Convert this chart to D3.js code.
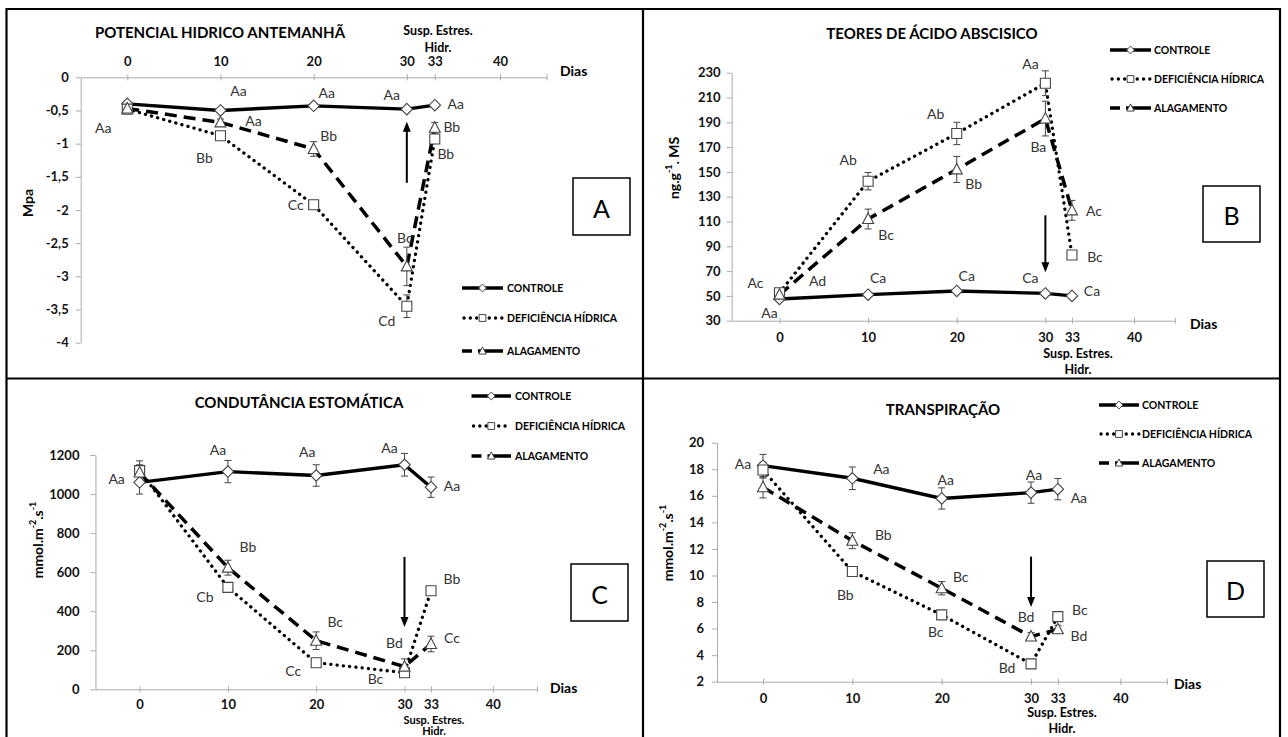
<!DOCTYPE html>
<html>
<head>
<meta charset="utf-8">
<script src="https://cdn.jsdelivr.net/npm/d3@7"></script>
<style>
  body { margin: 0; background: #fff; }
  svg { display: block; }
  text { font-family: Lato, "Open Sans", sans-serif; }
</style>
</head>
<body>
<svg id="chart" width="1288" height="737"></svg>
<script>
// ---- data ----
const days = [0, 10, 20, 30, 33];
const xTickDays = [0, 10, 20, 30, 33, 40];
const seriesNames = ["CONTROLE", "DEFICIÊNCIA HÍDRICA", "ALAGAMENTO"];

// A - potencial hidrico antemanha (MPa)
const potControle = [-0.40, -0.50, -0.43, -0.48, -0.42];
const potDeficiencia = [-0.48, -0.88, -1.92, -3.45, -0.93];
const potAlagamento = [-0.47, -0.68, -1.08, -2.85, -0.76];
const potErrControle = [0, 0, 0, 0, 0];
const potErrDeficiencia = [0.02, 0.03, 0.06, 0.17, 0.05];
const potErrAlagamento = [0.02, 0.05, 0.11, 0.29, 0.08];
const potLetControle = ["Aa", "Aa", "Aa", "Aa", "Aa"];
const potLetDeficiencia = [null, "Bb", "Cc", "Cd", "Bb"];
const potLetAlagamento = [null, "Aa", "Bb", "Bc", "Bb"];
const potTicks = [0, -0.5, -1, -1.5, -2, -2.5, -3, -3.5, -4];
const potTickLabels = ["0", "-0,5", "-1", "-1,5", "-2", "-2,5", "-3", "-3,5", "-4"];
const potArrow = [30, -1.59, -0.67];

// B - teores de acido abscisico (ng.g-1 MS)
const abaControle = [47.5, 51, 54, 52, 50];
const abaDeficiencia = [52.5, 142.5, 181, 221.5, 83];
const abaAlagamento = [51, 112, 152, 193, 119];
const abaErrControle = [1.5, 1.5, 1.5, 1.5, 1.5];
const abaErrDeficiencia = [3, 7, 9, 10, 3];
const abaErrAlagamento = [3, 8, 10.5, 14, 8];
const abaLetControle = ["Aa", "Ca", "Ca", "Ca", "Ca"];
const abaLetDeficiencia = ["Ac", "Ab", "Ab", "Aa", "Bc"];
const abaLetAlagamento = ["Ad", "Bc", "Bb", "Ba", "Ac"];
const abaTicks = [30, 50, 70, 90, 110, 130, 150, 170, 190, 210, 230];
const abaTickLabels = ["30", "50", "70", "90", "110", "130", "150", "170", "190", "210", "230"];
const abaArrow = [30, 115, 69];

// C - condutancia estomatica (mmol.m-2.s-1)
const conControle = [1060, 1115, 1095, 1150, 1035];
const conDeficiencia = [1120, 522, 136, 85, 505];
const conAlagamento = [1110, 623, 249, 116, 232];
const conErrControle = [60, 57, 55, 58, 52];
const conErrDeficiencia = [50, 15, 12, 12, 12];
const conErrAlagamento = [40, 38, 45, 40, 40];
const conLetControle = ["Aa", "Aa", "Aa", "Aa", "Aa"];
const conLetDeficiencia = [null, "Cb", "Cc", "Bc", "Bb"];
const conLetAlagamento = [null, "Bb", "Bc", "Bd", "Cc"];
const conTicks = [0, 200, 400, 600, 800, 1000, 1200];
const conTickLabels = ["0", "200", "400", "600", "800", "1000", "1200"];
const conArrow = [30, 678, 319];

// D - transpiracao (mmol.m-2.s-1)
const traControle = [18.27, 17.32, 15.8, 16.24, 16.5];
const traDeficiencia = [17.94, 10.3, 7.03, 3.34, 6.9];
const traAlagamento = [16.64, 12.62, 9.04, 5.4, 5.95];
const traErrControle = [0.85, 0.85, 0.8, 0.8, 0.8];
const traErrDeficiencia = [0.6, 0.2, 0.2, 0.2, 0.2];
const traErrAlagamento = [0.8, 0.6, 0.5, 0.3, 0.3];
const traLetControle = ["Aa", "Aa", "Aa", "Aa", "Aa"];
const traLetDeficiencia = [null, "Bb", "Bc", "Bd", "Bc"];
const traLetAlagamento = [null, "Bb", "Bc", "Bd", "Bd"];
const traTicks = [2, 4, 6, 8, 10, 12, 14, 16, 18, 20];
const traTickLabels = ["2", "4", "6", "8", "10", "12", "14", "16", "18", "20"];
const traArrow = [30, 11.42, 7.63];

// ---- layout ----
const panels = [
  {
    letter: "A", title: "POTENCIAL HIDRICO ANTEMANHÃ", titleXY: [220, 32],
    xRange: [127.3, 500], xExtent: [-5, 45], yDomain: [-4, 0], yRange: [342.7, 77.3], axisTop: true,
    values: [potControle, potDeficiencia, potAlagamento],
    errors: [potErrControle, potErrDeficiencia, potErrAlagamento],
    letters: [potLetControle, potLetDeficiencia, potLetAlagamento],
    yTicks: potTicks, yTickLabels: potTickLabels, yPad: 7, xPad: 8, arrow: potArrow,
    yLabel: [["Mpa"]], yLabelXY: [27, 203],
    dias: [560, 70], susp: [438, 30, 17], suspSize: 12.5,
    legend: { x1: 462, x2: 503, tx: 507, rows: [288, 318, 351] },
    box: [573, 178, 57, 57],
    offsets: [
      [[-24, 24], [18, -20], [13, -13], [-15, -15], [21, -2]],
      [[0, 0], [-16, 22], [-18, 0], [-20, 14], [11, 14]],
      [[0, 0], [33, -2], [15, -13], [-2, -29], [17, -1]]
    ]
  },
  {
    letter: "B", title: "TEORES DE ÁCIDO ABSCISICO", titleXY: [932, 33],
    xRange: [779.5, 1134], xExtent: [-5.4, 44.6], yDomain: [30, 230], yRange: [320.7, 72.7], axisTop: false,
    values: [abaControle, abaDeficiencia, abaAlagamento],
    errors: [abaErrControle, abaErrDeficiencia, abaErrAlagamento],
    letters: [abaLetControle, abaLetDeficiencia, abaLetAlagamento],
    yTicks: abaTicks, yTickLabels: abaTickLabels, yPad: 6, xPad: 9, arrow: abaArrow,
    yLabel: [["ng.g"], ["-1", "sup"], [". MS"]], yLabelXY: [673, 168],
    dias: [1190, 323], susp: [1078, 353, 16], suspSize: 12.5,
    legend: { x1: 1110, x2: 1151, tx: 1154, rows: [50, 79, 108] },
    box: [1203, 186, 57, 56],
    offsets: [
      [[-10, 13], [10, -17], [10, -15], [-15, -16], [20, -5]],
      [[-24, -10], [-20, -22], [-21, -20], [-15, -20], [23, 2]],
      [[38, -14], [18, 15], [17, 14], [-7, 28], [22, 0]]
    ]
  },
  {
    letter: "C", title: "CONDUTÂNCIA ESTOMÁTICA", titleXY: [299, 402],
    xRange: [139.6, 492.8], xExtent: [-5, 45], yDomain: [0, 1200], yRange: [689.3, 455], axisTop: false,
    values: [conControle, conDeficiencia, conAlagamento],
    errors: [conErrControle, conErrDeficiencia, conErrAlagamento],
    letters: [conLetControle, conLetDeficiencia, conLetAlagamento],
    yTicks: conTicks, yTickLabels: conTickLabels, yPad: 11, xPad: 7, arrow: conArrow,
    yLabel: [["mmol.m"], ["-2", "sup"], [".s"], ["-1", "sup"]], yLabelXY: [37, 540],
    dias: [550, 687], susp: [434, 718.5, 11.5], suspSize: 11,
    legend: { x1: 471.5, x2: 511, tx: 515, rows: [396, 426, 456] },
    box: [571, 564, 57, 57],
    offsets: [
      [[-23, -4], [-10, -22], [-9, -24], [-15, -17], [21, -2]],
      [[0, 0], [-23, 9], [-23, 8], [-29, 6], [21, -12]],
      [[0, 0], [20, -21], [19, -19], [-10, -24], [21, -7]]
    ]
  },
  {
    letter: "D", title: "TRANSPIRAÇÃO", titleXY: [943, 409],
    xRange: [763, 1120.4], xExtent: [-5.15, 45.2], yDomain: [2, 20], yRange: [681.7, 442.7], axisTop: false,
    values: [traControle, traDeficiencia, traAlagamento],
    errors: [traErrControle, traErrDeficiencia, traErrAlagamento],
    letters: [traLetControle, traLetDeficiencia, traLetAlagamento],
    yTicks: traTicks, yTickLabels: traTickLabels, yPad: 8, xPad: 9, arrow: traArrow,
    yLabel: [["mmol.m"], ["-2", "sup"], [".s"], ["-1", "sup"]], yLabelXY: [667, 543],
    dias: [1174, 683], susp: [1062, 712, 16], suspSize: 12.5,
    legend: { x1: 1099, x2: 1139, tx: 1142, rows: [405, 434, 463] },
    box: [1207, 561, 57, 56],
    offsets: [
      [[-20, -2], [29, -10], [4, -19], [3, -18], [21, 8]],
      [[0, 0], [-7, 23], [-6, 17], [-24, 4], [22, -7]],
      [[0, 0], [31, -6], [19, -12], [-5, -20], [21, 6]]
    ]
  }
];

const lineStyles = [
  { dash: null, width: 3.4, cap: "butt" },
  { dash: "0.1 6.2", width: 3.3, cap: "round" },
  { dash: "12 7", width: 3.5, cap: "butt" }
];
const legendDash = [null, "0.1 6.2", "10 6 30"];
const markerKinds = ["diamond", "square", "triangle"];

function markerPath(kind, s) {
  if (kind === "diamond") return `M0,${-s * 1.15}L${s * 1.15},0L0,${s * 1.15}L${-s * 1.15},0Z`;
  if (kind === "square") return `M${-s},${-s}h${2 * s}v${2 * s}h${-2 * s}Z`;
  return `M0,${-s * 1.2}L${s * 1.1},${s * 0.9}L${-s * 1.1},${s * 0.9}Z`;
}

const svg = d3.select("#chart");
svg.append("rect").attr("width", 1288).attr("height", 737).attr("fill", "#fff");

function drawPanel(p) {
  const g = svg.append("g");
  const x = d3.scaleLinear().domain([0, 40]).range(p.xRange);
  const y = d3.scaleLinear().domain(p.yDomain).range(p.yRange);
  const axisY = p.axisTop ? y(p.yDomain[1]) : y(p.yDomain[0]);
  const xa = x.copy().domain(p.xExtent).range(p.xExtent.map(x));

  // y axis
  const yAxis = g.append("g")
    .attr("transform", `translate(${x(p.xExtent[0])},0)`)
    .call(d3.axisLeft(y).tickValues(p.yTicks)
      .tickFormat((d, i) => p.yTickLabels[i])
      .tickSizeInner(5).tickSizeOuter(0).tickPadding(p.yPad));
  yAxis.select(".domain").attr("stroke", "#aaa");
  yAxis.selectAll(".tick line").attr("stroke", "#aaa");
  yAxis.selectAll("text").attr("font-size", 13).attr("font-weight", "bold").attr("fill", "#111")
    .style("font-family", "Lato");

  // x axis
  const xTicks = xTickDays.concat([p.xExtent[1]]);
  const xAxisFn = (p.axisTop ? d3.axisTop(xa) : d3.axisBottom(xa))
    .tickValues(xTicks)
    .tickFormat(d => (xTickDays.includes(d) ? String(d) : ""))
    .tickSizeInner(3).tickSizeOuter(0).tickPadding(p.xPad);
  const xAxis = g.append("g").attr("transform", `translate(0,${axisY})`).call(xAxisFn);
  xAxis.select(".domain").attr("stroke", "#aaa");
  xAxis.selectAll(".tick line").attr("stroke", "#aaa").attr("y1", -3).attr("y2", 3);
  xAxis.selectAll("text").attr("font-size", 13).attr("font-weight", "bold").attr("fill", "#111")
    .style("font-family", "Lato");

  g.append("text").attr("x", p.dias[0]).attr("y", p.dias[1])
    .attr("dominant-baseline", "central").attr("font-size", 14).attr("font-weight", "bold")
    .text("Dias");

  // "Susp. Estres. / Hidr." note, one text in two lines
  const sn = g.append("text").attr("x", p.susp[0]).attr("y", p.susp[1])
    .attr("text-anchor", "middle").attr("dominant-baseline", "central")
    .attr("font-size", p.suspSize).attr("font-weight", "bold");
  sn.append("tspan").attr("x", p.susp[0]).text("Susp. Estres.");
  sn.append("tspan").attr("x", p.susp[0]).attr("dy", p.susp[2]).text("Hidr.");

  // title
  g.append("text").attr("x", p.titleXY[0]).attr("y", p.titleXY[1])
    .attr("text-anchor", "middle").attr("dominant-baseline", "central")
    .attr("font-size", 15).attr("font-weight", "bold").text(p.title);

  // y label
  const yl = g.append("text")
    .attr("transform", `translate(${p.yLabelXY[0]},${p.yLabelXY[1]}) rotate(-90)`)
    .attr("text-anchor", "middle").attr("dominant-baseline", "central")
    .attr("font-size", 14).attr("font-weight", "bold");
  let shifted = false;
  p.yLabel.forEach(part => {
    const sup = part[1] === "sup";
    const ts = yl.append("tspan").text(part[0]);
    if (sup) { ts.attr("font-size", 9).attr("dy", -5); shifted = true; }
    else if (shifted) { ts.attr("dy", 5); shifted = false; }
  });

  // series lines
  const line = d3.line().x(d => x(d.day)).y(d => y(d.v));
  p.values.forEach((vals, si) => {
    const st = lineStyles[si];
    const pts = days.map((d, i) => ({ day: d, v: vals[i] }));
    g.append("path").datum(pts).attr("d", line)
      .attr("fill", "none").attr("stroke", "#000")
      .attr("stroke-width", st.width).attr("stroke-linecap", st.cap)
      .attr("stroke-dasharray", st.dash);
  });

  // error bars
  p.values.forEach((vals, si) => {
    days.forEach((d, i) => {
      const e = p.errors[si][i];
      if (!e) return;
      const cx = x(d), y1 = y(vals[i] - e), y2 = y(vals[i] + e);
      g.append("line").attr("x1", cx).attr("x2", cx).attr("y1", y1).attr("y2", y2)
        .attr("stroke", "#444").attr("stroke-width", 1);
      [y1, y2].forEach(yy => g.append("line").attr("x1", cx - 3.5).attr("x2", cx + 3.5)
        .attr("y1", yy).attr("y2", yy).attr("stroke", "#444").attr("stroke-width", 1));
    });
  });

  // markers
  p.values.forEach((vals, si) => {
    g.selectAll(null).data(days.map((d, i) => ({ day: d, v: vals[i] }))).enter()
      .append("path")
      .attr("transform", d => `translate(${x(d.day)},${y(d.v)})`)
      .attr("d", markerPath(markerKinds[si], 5))
      .attr("fill", "#fff").attr("stroke", "#444").attr("stroke-width", 1.1);
  });

  // significance letters
  p.letters.forEach((lets, si) => {
    lets.forEach((t, i) => {
      if (!t) return;
      const off = p.offsets[si][i];
      g.append("text")
        .attr("x", x(days[i]) + off[0]).attr("y", y(p.values[si][i]) + off[1])
        .attr("text-anchor", "middle").attr("dominant-baseline", "central")
        .attr("font-size", 14).attr("fill", "#333").text(t);
    });
  });

  // arrow
  const ax = x(p.arrow[0]), ay1 = y(p.arrow[1]), ay2 = y(p.arrow[2]);
  const dir = ay2 < ay1 ? -1 : 1;
  g.append("line").attr("x1", ax).attr("x2", ax).attr("y1", ay1).attr("y2", ay2 - dir * 8)
    .attr("stroke", "#000").attr("stroke-width", 2);
  g.append("path")
    .attr("d", `M${ax},${ay2}L${ax - 4},${ay2 - dir * 10}L${ax + 4},${ay2 - dir * 10}Z`)
    .attr("fill", "#000");

  // legend
  const lg = p.legend;
  seriesNames.forEach((name, si) => {
    const ry = lg.rows[si];
    const st = lineStyles[si];
    const mid = (lg.x1 + lg.x2) / 2;
    g.append("line").attr("x1", lg.x1 + (si === 1 ? 2 : 0)).attr("x2", lg.x2).attr("y1", ry).attr("y2", ry)
      .attr("stroke", "#000").attr("stroke-width", st.width)
      .attr("stroke-linecap", st.cap)
      .attr("stroke-dasharray", legendDash[si]);
    g.append("path").attr("transform", `translate(${mid},${ry})`)
      .attr("d", markerPath(markerKinds[si], 3.4))
      .attr("fill", "#fff").attr("stroke", "#444").attr("stroke-width", 1);
    g.append("text").attr("x", lg.tx).attr("y", ry)
      .attr("dominant-baseline", "central").attr("font-size", 10.5).attr("font-weight", "bold")
      .text(name);
  });

  // panel letter box
  g.append("rect").attr("x", p.box[0]).attr("y", p.box[1]).attr("width", p.box[2]).attr("height", p.box[3])
    .attr("fill", "#fff").attr("stroke", "#000").attr("stroke-width", 1.5);
  g.append("text").attr("x", p.box[0] + p.box[2] / 2).attr("y", p.box[1] + p.box[3] / 2 + 1)
    .attr("text-anchor", "middle").attr("dominant-baseline", "central")
    .attr("font-size", 25).text(p.letter);
}

panels.forEach(drawPanel);

// frame and dividers
const frame = svg.append("g").attr("stroke", "#000").attr("stroke-width", 2.2);
frame.append("line").attr("x1", 6).attr("x2", 1281).attr("y1", 9).attr("y2", 9);
frame.append("line").attr("x1", 6.5).attr("x2", 6.5).attr("y1", 8).attr("y2", 737);
frame.append("line").attr("x1", 1280).attr("x2", 1280).attr("y1", 8).attr("y2", 737);
frame.append("line").attr("x1", 643).attr("x2", 643).attr("y1", 8).attr("y2", 737);
frame.append("line").attr("x1", 6).attr("x2", 1281).attr("y1", 378.5).attr("y2", 378.5);
</script>
</body>
</html>
